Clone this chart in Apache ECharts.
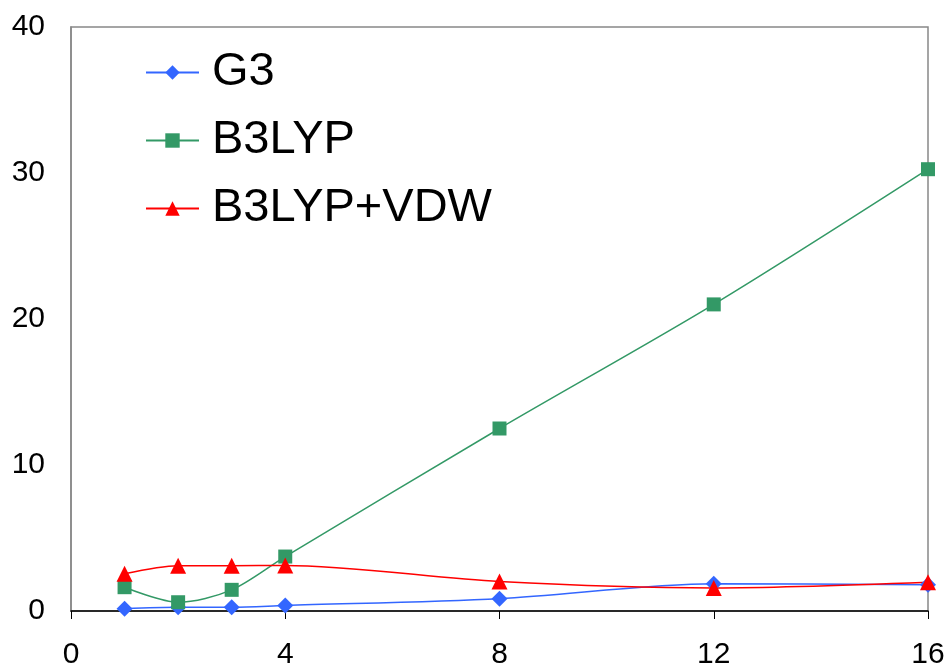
<!DOCTYPE html>
<html><head><meta charset="utf-8">
<script src="https://cdn.jsdelivr.net/npm/echarts@6/dist/echarts.min.js"></script>
<style>html,body{margin:0;padding:0;background:#fff}#c{width:949px;height:671px}</style>
</head><body><div id="c"></div>
<script>
const xValues = [1, 2, 3, 4, 8, 12, 16];
const g3 = [0.16, 0.26, 0.26, 0.38, 0.84, 1.86, 1.8];
const b3lyp = [1.63, 0.6, 1.45, 3.73, 12.5, 21.0, 30.26];
const b3lypVdw = [2.55, 3.1, 3.1, 3.12, 2.02, 1.58, 1.97];
const seriesNames = ['G3', 'B3LYP', 'B3LYP+VDW'];
const xTicks = [0, 4, 8, 12, 16];
const yTicks = [0, 10, 20, 30, 40];

const pairs = arr => xValues.map((x, i) => [x, arr[i]]);
const font = 'Liberation Sans, Arial, sans-serif';
const chart = echarts.init(document.getElementById('c'));
chart.setOption({
  animation: false,
  backgroundColor: '#fff',
  grid: { left: 71, right: 21, top: 27, bottom: 60, show: true, borderColor: '#888', borderWidth: 1.5 },
  legend: {
    orient: 'vertical', left: 145, top: 49, padding: 0, itemWidth: 53, itemHeight: 18, itemGap: 21,
    textStyle: { fontFamily: font, fontSize: 47, color: '#000', padding: [0, 0, 0, 8] },
    data: seriesNames
  },
  xAxis: {
    type: 'value', min: xTicks[0], max: xTicks[xTicks.length - 1], interval: 4,
    axisLine: { lineStyle: { color: '#000', width: 1.5 } },
    axisTick: { show: true, inside: false, length: 8, lineStyle: { color: '#000' } },
    axisLabel: { fontFamily: font, fontSize: 30, color: '#000', margin: 29 },
    splitLine: { show: false }
  },
  yAxis: {
    type: 'value', min: yTicks[0], max: yTicks[yTicks.length - 1], interval: 10,
    axisLine: { show: true, lineStyle: { color: '#888', width: 1.5 } },
    axisTick: { show: false },
    axisLabel: { fontFamily: font, fontSize: 30, color: '#000', margin: 26 },
    splitLine: { show: false }
  },
  series: [
    { name: seriesNames[0], type: 'line', smooth: 0.3, data: pairs(g3), symbol: 'diamond', symbolSize: 16,
      itemStyle: { color: '#3366FF' }, lineStyle: { color: '#3366FF', width: 1.5 } },
    { name: seriesNames[1], type: 'line', smooth: 0.3, data: pairs(b3lyp), symbol: 'rect', symbolSize: 14,
      itemStyle: { color: '#339966' }, lineStyle: { color: '#339966', width: 1.5 } },
    { name: seriesNames[2], type: 'line', smooth: 0.3, data: pairs(b3lypVdw), symbol: 'triangle', symbolSize: 16,
      itemStyle: { color: '#FF0000' }, lineStyle: { color: '#FF0000', width: 1.5 } }
  ]
});
</script></body></html>
